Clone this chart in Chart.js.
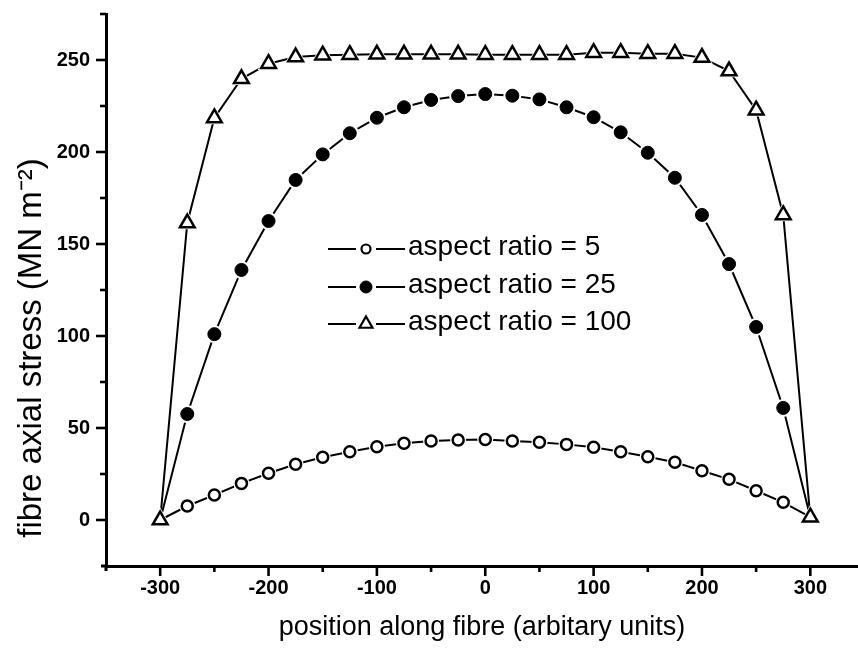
<!DOCTYPE html>
<html>
<head>
<meta charset="utf-8">
<script src="https://cdn.jsdelivr.net/npm/chart.js@4.4.1/dist/chart.umd.min.js"></script>
<style>
html,body{margin:0;padding:0;background:#fff;overflow:hidden}
#wrap{width:858px;height:650px;position:relative}
</style>
</head>
<body>
<div id="wrap"><canvas id="c" width="858" height="650"></canvas></div>
<script>
// ---- data ----
const positions = [-300,-275,-250,-225,-200,-175,-150,-125,-100,-75,-50,-25,0,25,50,75,100,125,150,175,200,225,250,275,300];
const ratio5   = [0,7.6,13.6,19.9,25.4,30.3,34.1,37.1,39.8,41.7,42.9,43.5,43.7,42.9,42.2,41.1,39.5,37.1,34.4,31.4,26.8,22.1,15.9,9.6,1.5];
const ratio25  = [0,57.6,101,135.9,162.5,184.8,198.7,210.2,218.6,224.3,228.3,230.4,231.5,230.6,228.6,224.3,218.9,210.7,199.6,186,165.8,139.1,104.9,60.9,1.5];
const ratio100 = [0,161.4,218.5,239.8,248,251.6,252.6,252.9,253.1,253.1,253.1,253.1,252.9,252.9,252.9,252.9,254,254,253.4,253.4,251.3,244,222.7,165.8,1.5];
const seriesLabels = ['aspect ratio = 5','aspect ratio = 25','aspect ratio = 100'];
const xTickLabels = [-300,-200,-100,0,100,200,300];
const xMinorTicks = [-250,-150,-50,50,150,250];
const yTickLabels = [0,50,100,150,200,250];
const yMinorTicks = [25,75,125,175,225,275];
const xTitle = 'position along fibre (arbitary units)';
const yTitle = 'fibre axial stress (MN m\u207B\u00B2)';

const FONT = "'Liberation Sans', Arial, Helvetica, sans-serif";
Chart.defaults.font.family = FONT;
Chart.defaults.color = '#000';

function pts(arr){ return positions.map((x,i)=>({x:x, y:arr[i]})); }
const lastIdx = positions.length - 1;
const hideEnds = r => (ctx => (ctx.dataIndex === 0 || ctx.dataIndex === lastIdx) ? 0 : r);

const legendStyles = [
  {style:'circle', r:4.5, bg:'#fff', bw:2.2},
  {style:'circle', r:6, bg:'#000', bw:1},
  {style:'triangle', r:7.5, bg:'#fff', bw:2.2}
];
const legendRows = [249, 287, 324];

// white halo round each marker so the connecting lines stop short of it
const markerGapPlugin = {
  id: 'markerGap',
  afterDatasetDraw(chart, args){
    const ctx = chart.ctx;
    const meta = args.meta;
    ctx.save();
    meta.data.forEach(el => {
      const o = el.options;
      if (!o || !o.radius) return;
      ctx.fillStyle = '#fff';
      ctx.strokeStyle = '#fff';
      const extra = o.pointStyle === 'triangle' ? 4 : 2.5;
      Chart.helpers.drawPoint(ctx, {pointStyle: o.pointStyle, radius: o.radius + extra, borderWidth: 0, rotation: 0}, el.x, el.y);
    });
    ctx.restore();
    meta.data.forEach(el => { if (el.options && el.options.radius) el.draw(ctx, chart.chartArea); });
  }
};

const axisTicksPlugin = {
  id: 'axisTicks',
  afterDraw(chart){
    const ctx = chart.ctx, xs = chart.scales.x, ys = chart.scales.y;
    const area = chart.chartArea;
    ctx.save();
    ctx.strokeStyle = '#000';
    ctx.lineWidth = 2.6;
    ctx.lineCap = 'butt';
    const xt = (v, len) => { const p = xs.getPixelForValue(v); ctx.beginPath(); ctx.moveTo(p, area.bottom); ctx.lineTo(p, area.bottom + len); ctx.stroke(); };
    const yt = (v, len) => { const p = ys.getPixelForValue(v); ctx.beginPath(); ctx.moveTo(area.left, p); ctx.lineTo(area.left - len, p); ctx.stroke(); };
    xTickLabels.forEach(v => xt(v, 10));
    xMinorTicks.forEach(v => xt(v, 6));
    yTickLabels.forEach(v => yt(v, 10));
    yMinorTicks.forEach(v => yt(v, 6));
    ctx.lineWidth = 3;
    ctx.beginPath(); ctx.moveTo(area.left, area.bottom); ctx.lineTo(area.left, area.bottom + 5); ctx.stroke();
    ctx.beginPath(); ctx.moveTo(area.left, area.bottom); ctx.lineTo(area.left - 5, area.bottom); ctx.stroke();
    ctx.save();
    ctx.translate(32, 348);
    ctx.rotate(-Math.PI / 2);
    ctx.font = "33px " + FONT;
    ctx.fillStyle = '#000';
    ctx.textAlign = 'center';
    ctx.textBaseline = 'middle';
    ctx.fillText(yTitle, 0, 0);
    ctx.restore();
    ctx.restore();
  }
};

const insideLegendPlugin = {
  id: 'insideLegend',
  afterDraw(chart){
    const ctx = chart.ctx;
    ctx.save();
    chart.data.datasets.forEach((ds, i) => {
      const y = legendRows[i];
      ctx.strokeStyle = '#000';
      ctx.lineWidth = 2;
      ctx.beginPath(); ctx.moveTo(328, y); ctx.lineTo(356, y); ctx.stroke();
      ctx.beginPath(); ctx.moveTo(376, y); ctx.lineTo(405, y); ctx.stroke();
      const st = legendStyles[i];
      ctx.fillStyle = st.bg; ctx.strokeStyle = '#000'; ctx.lineWidth = st.bw;
      Chart.helpers.drawPoint(ctx, {pointStyle: st.style, radius: st.r, borderWidth: st.bw, rotation: 0}, 366, y);
      ctx.fillStyle = '#000';
      ctx.font = "28px " + FONT;
      ctx.textBaseline = 'middle';
      ctx.textAlign = 'left';
      ctx.fillText(ds.label, 408, y - 2);
    });
    ctx.restore();
  }
};

new Chart(document.getElementById('c'), {
  type: 'line',
  data: {
    datasets: [
      { label: seriesLabels[0], data: pts(ratio5), order: 3,
        borderColor:'#000', borderWidth:2, pointStyle:'circle', pointRadius: hideEnds(5.5),
        pointBackgroundColor:'#fff', pointBorderColor:'#000', pointBorderWidth:2.5, tension:0 },
      { label: seriesLabels[1], data: pts(ratio25), order: 2,
        borderColor:'#000', borderWidth:2, pointStyle:'circle', pointRadius: hideEnds(6.5),
        pointBackgroundColor:'#000', pointBorderColor:'#000', pointBorderWidth:1, tension:0 },
      { label: seriesLabels[2], data: pts(ratio100), order: 1,
        borderColor:'#000', borderWidth:2, pointStyle:'triangle', pointRadius: 8.5,
        pointBackgroundColor:'#fff', pointBorderColor:'#000', pointBorderWidth:2.5, tension:0 }
    ]
  },
  options: {
    responsive: false,
    animation: false,
    devicePixelRatio: 1,
    layout: { autoPadding: false, padding: { top: 14, left: 0, right: 0, bottom: 0 } },
    plugins: { legend: { display: false }, tooltip: { enabled: false } },
    scales: {
      x: {
        type: 'linear', min: -350, max: 344,
        afterBuildTicks: s => { s.ticks = [-350,-300,-250,-200,-150,-100,-50,0,50,100,150,200,250,300].map(v => ({value: v})); },
        afterFit: s => { s.height = 84; s.paddingLeft = 0; s.paddingRight = 0; },
        grid: { drawOnChartArea: false, drawTicks: false },
        border: { display: true, color: '#000', width: 3 },
        ticks: { padding: 10, font: { size: 20, weight: 'bold' }, color: '#000', maxRotation: 0, autoSkip: false,
          callback: v => xTickLabels.includes(v) ? String(v) : '' },
        title: { display: true, text: xTitle, font: { size: 27 }, color: '#000', padding: { top: 0, bottom: 6 } }
      },
      y: {
        type: 'linear', min: -25, max: 275,
        afterBuildTicks: s => { const t = []; for (let v = -25; v <= 275; v += 25) t.push({value: v}); s.ticks = t; },
        afterFit: s => { s.width = 106; s.paddingTop = 0; s.paddingBottom = 0; },
        grid: { drawOnChartArea: false, drawTicks: false },
        border: { display: true, color: '#000', width: 3 },
        ticks: { padding: 16, font: { size: 20, weight: 'bold' }, color: '#000', autoSkip: false,
          callback: v => yTickLabels.includes(v) ? String(v) : '' },
        title: { display: false }
      }
    }
  },
  plugins: [markerGapPlugin, axisTicksPlugin, insideLegendPlugin]
});
</script>
</body>
</html>
